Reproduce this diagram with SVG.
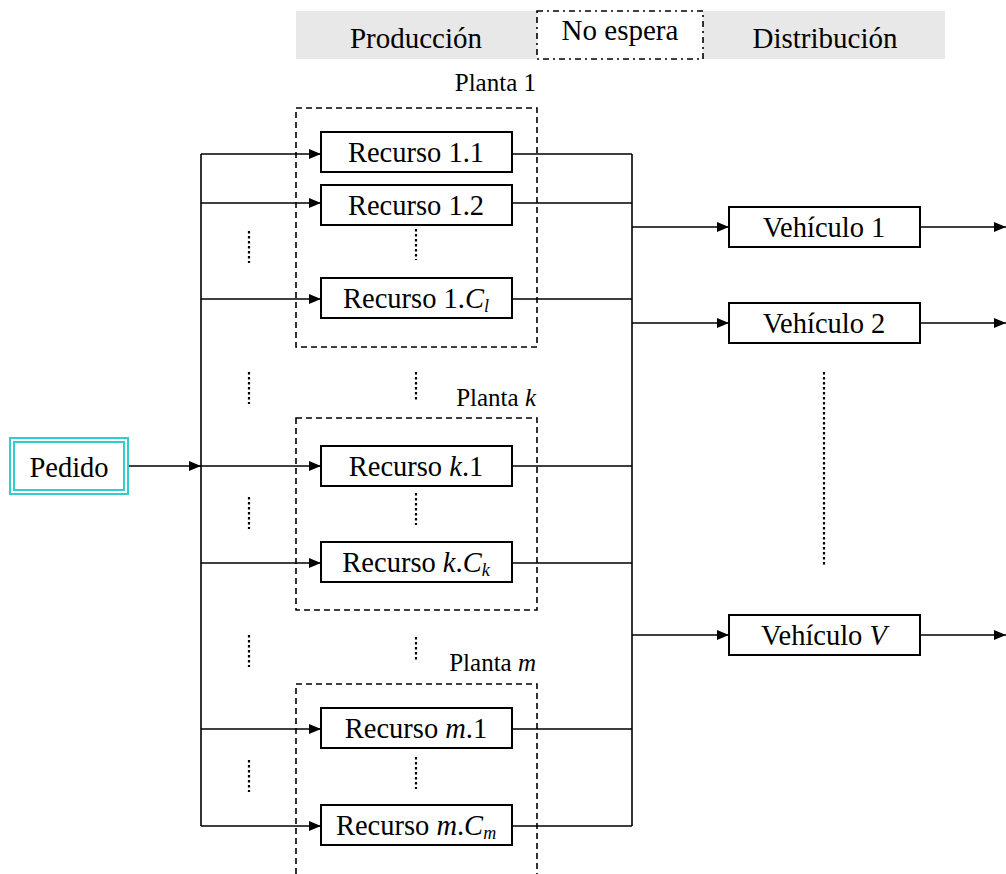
<svg xmlns="http://www.w3.org/2000/svg" width="1006" height="874" viewBox="0 0 1006 874">
<style>
text{font-family:"Liberation Serif","Times New Roman",serif;fill:#000}
.t{font-size:28.5px;text-anchor:middle}
.h{font-size:29px;text-anchor:middle}
.p{font-size:25px;text-anchor:end}
.box{fill:#fff;stroke:#000;stroke-width:2}
.plant{fill:none;stroke:#000;stroke-width:1.6;stroke-dasharray:6 4}
.ln{fill:none;stroke:#000;stroke-width:1.6}
.ar{fill:none;stroke:#000;stroke-width:1.6;marker-end:url(#ah)}
.dot{fill:none;stroke:#000;stroke-width:2.2;stroke-dasharray:2.5 2.5}
</style>
<defs>
<marker id="ah" markerWidth="12" markerHeight="10" refX="12" refY="5" orient="auto" markerUnits="userSpaceOnUse">
<path d="M0,0 L12,5 L0,10 Z" fill="#000"/>
</marker>
</defs>
<rect width="1006" height="874" fill="#fff"/>
<g id="header">
<rect x="296" y="11" width="649" height="48" fill="#e8e8e8"/>
<rect x="537" y="11" width="166" height="48" fill="#fff" stroke="#000" stroke-width="1.6" stroke-dasharray="6 4 2 4"/>
<text class="h" x="416" y="48">Producción</text>
<text class="h" x="620" y="40">No espera</text>
<text class="h" x="825" y="48">Distribución</text>
</g>
<g id="planta1">
<rect class="plant" x="296" y="108" width="241" height="239"/>
<text class="p" x="536" y="91">Planta 1</text>
</g>
<g id="plantak">
<rect class="plant" x="296" y="418" width="241" height="192"/>
<text class="p" x="536" y="406">Planta <tspan font-style="italic">k</tspan></text>
</g>
<g id="plantam">
<path class="plant" d="M296,874 V684 H537 V874"/>
<text class="p" x="536" y="671">Planta <tspan font-style="italic">m</tspan></text>
</g>
<g id="connectors">
<path class="ln" d="M201,154 V826"/>
<path class="ar" d="M201,154 H321"/>
<path class="ar" d="M201,203 H321"/>
<path class="ar" d="M201,299 H321"/>
<path class="ar" d="M201,466 H321"/>
<path class="ar" d="M128,466 H201"/>
<path class="ar" d="M201,563 H321"/>
<path class="ar" d="M201,729 H321"/>
<path class="ar" d="M201,826 H321"/>
<path class="ln" d="M512,154 H632 M512,203 H632 M512,299 H632 M512,466 H632 M512,563 H632 M512,729 H632 M512,826 H632"/>
<path class="ln" d="M632,154 V826"/>
<path class="ar" d="M632,227 H729"/>
<path class="ar" d="M632,323 H729"/>
<path class="ar" d="M632,635 H729"/>
<path class="ar" d="M920,227 H1006"/>
<path class="ar" d="M920,323 H1006"/>
<path class="ar" d="M920,635 H1006"/>
</g>
<g id="dots">
<path class="dot" d="M249,231 V263 M249,372 V404 M249,497 V529 M249,635 V667 M249,760 V792"/>
<path class="dot" d="M416,229 V260 M416,372 V400 M416,493 V525 M416,637 V662 M416,757 V789"/>
<path class="dot" d="M824,372 V565"/>
</g>
<g id="pedido">
<rect x="10" y="438" width="118" height="56" fill="#fff" stroke="#33cccc" stroke-width="2"/>
<rect x="14" y="442" width="110" height="48" fill="none" stroke="#33cccc" stroke-width="2"/>
<text class="t" x="69" y="477">Pedido</text>
</g>
<g id="r11"><rect class="box" x="321" y="132" width="191" height="40"/><text class="t" x="416" y="162">Recurso 1.1</text></g>
<g id="r12"><rect class="box" x="321" y="185" width="191" height="40"/><text class="t" x="416" y="215">Recurso 1.2</text></g>
<g id="r1c"><rect class="box" x="321" y="278" width="191" height="40"/><text class="t" x="416" y="308">Recurso 1.<tspan font-style="italic">C</tspan><tspan font-style="italic" font-size="18" dy="4">l</tspan></text></g>
<g id="rk1"><rect class="box" x="321" y="446" width="191" height="40"/><text class="t" x="416" y="476">Recurso <tspan font-style="italic">k</tspan>.1</text></g>
<g id="rkc"><rect class="box" x="321" y="542" width="191" height="40"/><text class="t" x="416" y="572">Recurso <tspan font-style="italic">k</tspan>.<tspan font-style="italic">C</tspan><tspan font-style="italic" font-size="18" dy="4">k</tspan></text></g>
<g id="rm1"><rect class="box" x="321" y="708" width="191" height="40"/><text class="t" x="416" y="738">Recurso <tspan font-style="italic">m</tspan>.1</text></g>
<g id="rmc"><rect class="box" x="321" y="805" width="191" height="40"/><text class="t" x="416" y="835">Recurso <tspan font-style="italic">m</tspan>.<tspan font-style="italic">C</tspan><tspan font-style="italic" font-size="18" dy="4">m</tspan></text></g>
<g id="v1"><rect class="box" x="729" y="207" width="191" height="40"/><text class="t" x="824" y="237">Vehículo 1</text></g>
<g id="v2"><rect class="box" x="729" y="303" width="191" height="40"/><text class="t" x="824" y="333">Vehículo 2</text></g>
<g id="vv"><rect class="box" x="729" y="615" width="191" height="40"/><text class="t" x="824" y="645">Vehículo <tspan font-style="italic">V</tspan></text></g>
</svg>
